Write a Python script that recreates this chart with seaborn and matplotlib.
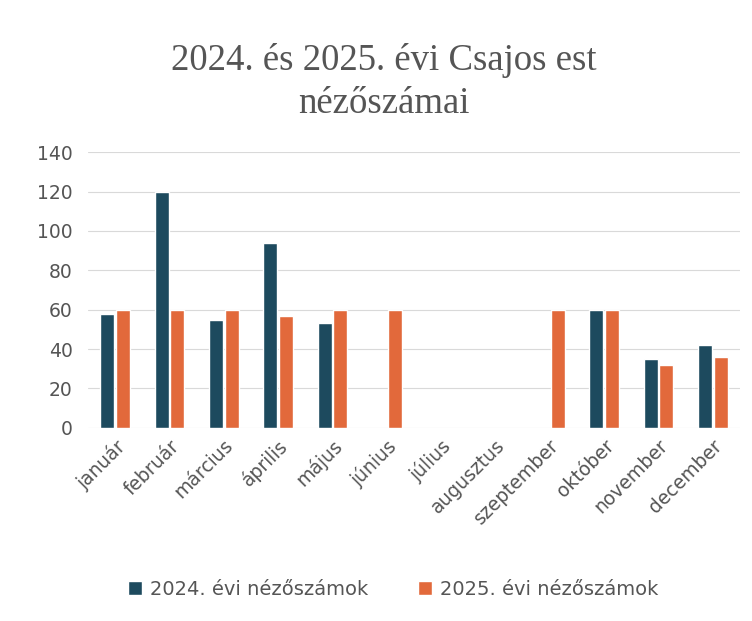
import matplotlib.pyplot as plt
import pandas as pd
import seaborn as sns

months = ["január", "február", "március", "április", "május", "június",
          "július", "augusztus", "szeptember", "október", "november", "december"]
views_2024 = [58, 120, 55, 94, 53, 0, 0, 0, 0, 60, 35, 42]
views_2025 = [60, 60, 60, 57, 60, 60, 0, 0, 60, 60, 32, 36]
series = ["2024. évi nézőszámok", "2025. évi nézőszámok"]
colors = ["#1d4a5e", "#e2693b"]

data = pd.DataFrame({
    "Hónap": months * 2,
    "Nézők": views_2024 + views_2025,
    "Év": [series[0]] * 12 + [series[1]] * 12,
})

sns.set_style("white")
plt.rcParams['font.family'] = ['DejaVu Sans']

fig = plt.figure(figsize=(7.52, 6.21), dpi=100)
ax = fig.add_axes([0.117, 0.311, 0.867, 0.444])

sns.barplot(data=data, x="Hónap", y="Nézők", hue="Év", palette=colors,
            width=0.58, gap=0.12, ax=ax, saturation=1)

ax.set_ylim(0, 140)
ax.set_yticks(range(0, 141, 20))
ax.set_xlim(-0.5, 11.5)
ax.grid(axis="y", color="#d9d9d9", linewidth=0.8)
ax.set_axisbelow(True)
sns.despine(ax=ax, left=True, bottom=True)
ax.set_xlabel("")
ax.set_ylabel("")
ax.tick_params(axis="both", length=0, colors="#555555")
ax.tick_params(axis="x", labelsize=13.5, pad=6)
ax.tick_params(axis="y", labelsize=13.5, pad=11)
plt.setp(ax.get_xticklabels(), rotation=45, ha="right", rotation_mode="anchor")

fig.text(0.51, 0.868, "2024. és 2025. évi Csajos est\nnézőszámai", ha="center", va="center",
         fontsize=26.5, family="Liberation Serif", color="#555555", linespacing=1.3)

handles, labels = ax.get_legend_handles_labels()
ax.legend(handles, labels, loc="center", bbox_to_anchor=(0.468, -0.585), ncol=2, frameon=False,
          fontsize=14, handlelength=0.7, handleheight=0.7, handletextpad=0.4,
          columnspacing=2.6, labelcolor="#555555")

fig.savefig("out.png", dpi=100)
